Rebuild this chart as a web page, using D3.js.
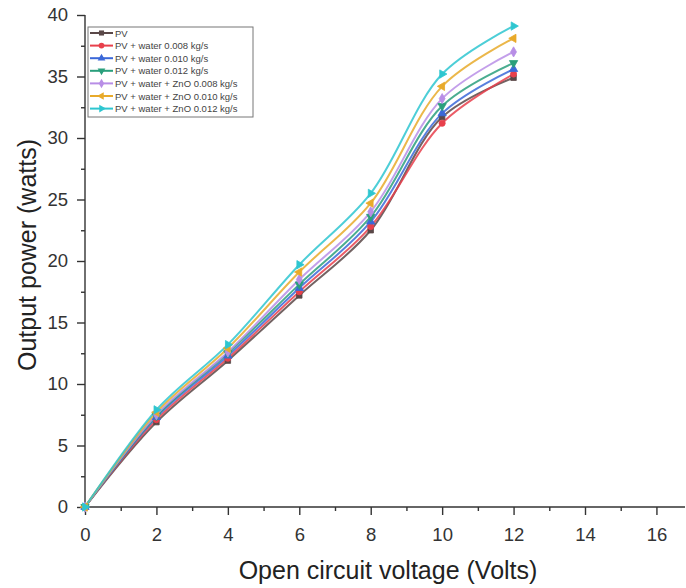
<!DOCTYPE html>
<html><head><meta charset="utf-8">
<script src="https://cdn.jsdelivr.net/npm/d3@7"></script>
<style>body{margin:0;background:#fff}svg{display:block}</style>
</head><body>
<svg id="c" width="686" height="588"></svg>
<script>
const voltage = [0, 2, 4, 6, 8, 10, 12];
const seriesNames = ["PV","PV + water 0.008 kg/s","PV + water 0.010 kg/s","PV + water 0.012 kg/s","PV + water + ZnO 0.008 kg/s","PV + water + ZnO 0.010 kg/s","PV + water + ZnO 0.012 kg/s"];
const pv        = [0, 6.9, 11.9, 17.2, 22.5, 31.7, 34.9];
const w008      = [0, 7.1, 12.1, 17.5, 22.8, 31.2, 35.2];
const w010      = [0, 7.3, 12.3, 17.8, 23.2, 32.0, 35.6];
const w012      = [0, 7.4, 12.5, 18.1, 23.6, 32.6, 36.1];
const zno008    = [0, 7.5, 12.6, 18.5, 24.0, 33.2, 37.0];
const zno010    = [0, 7.7, 12.9, 19.1, 24.7, 34.2, 38.1];
const zno012    = [0, 7.9, 13.2, 19.7, 25.5, 35.2, 39.1];
const seriesValues = [pv, w008, w010, w012, zno008, zno010, zno012];
const colors = ["#5a4848","#e8404c","#3b68d8","#2a9f7c","#b88ee6","#e8aa2a","#2ec6d0"];
const xTicks = [0,2,4,6,8,10,12,14,16];
const yTicks = [0,5,10,15,20,25,30,35,40];

const svg = d3.select("#c");
const L = 85, R = 685, T = 15, B = 507;
const x = d3.scaleLinear().domain([0, 16.8]).range([L, R]);
const y = d3.scaleLinear().domain([0, 40]).range([B, T]);
const axisColor = "#333";
const font = "'Liberation Sans', Arial, sans-serif";

const xMinor = d3.range(1, 17, 2);
const yMinor = d3.range(2.5, 40, 5);
const gx = svg.append("g").attr("transform", `translate(0,${B})`)
  .call(d3.axisBottom(x).tickValues(xTicks).tickSize(8).tickPadding(13).tickFormat(d3.format("d")));
gx.select(".domain").attr("d", `M${L},0H${R}`);
svg.append("g").attr("transform", `translate(0,${B})`)
  .call(d3.axisBottom(x).tickValues(xMinor).tickSize(4).tickFormat(""))
  .select(".domain").remove();
const gy = svg.append("g").attr("transform", `translate(${L},0)`)
  .call(d3.axisLeft(y).tickValues(yTicks).tickSize(8).tickPadding(9));
gy.select(".domain").attr("d", `M0,${T}V${B}`);
svg.append("g").attr("transform", `translate(${L},0)`)
  .call(d3.axisLeft(y).tickValues(yMinor).tickSize(4).tickFormat(""))
  .select(".domain").remove();
svg.selectAll(".domain, .tick line").attr("stroke", axisColor).attr("stroke-width", 1.4);
svg.selectAll(".tick text").attr("fill", "#333").style("font-family", font).style("font-size", "18.5px");

svg.append("text").attr("x", 388).attr("y", 579).attr("text-anchor", "middle")
  .style("font-family", font).style("font-size", "25px").attr("fill", "#222")
  .text("Open circuit voltage (Volts)");
svg.append("text").attr("transform", "translate(36,255) rotate(-90)").attr("text-anchor", "middle")
  .style("font-family", font).style("font-size", "25px").attr("fill", "#222")
  .text("Output power (watts)");

const symbols = [
  {t: d3.symbolSquare, r: 0}, {t: d3.symbolCircle, r: 0}, {t: d3.symbolTriangle, r: 0},
  {t: d3.symbolTriangle, r: 180}, {t: d3.symbolDiamond, r: 0}, {t: d3.symbolTriangle, r: -90},
  {t: d3.symbolTriangle, r: 90}];

const line = d3.line().x(d => x(d[0])).y(d => y(d[1])).curve(d3.curveCatmullRom.alpha(0.5));
seriesValues.forEach((vals, i) => {
  const pts = voltage.map((v, j) => [v, vals[j]]);
  svg.append("path").datum(pts).attr("d", line).attr("fill", "none")
    .attr("stroke", colors[i]).attr("stroke-width", 2).attr("stroke-opacity", 0.85);
});
seriesValues.forEach((vals, i) => {
  const pts = voltage.map((v, j) => [v, vals[j]]);
  svg.append("g").selectAll("path").data(pts).join("path")
    .attr("transform", d => `translate(${x(d[0])},${y(d[1])}) rotate(${symbols[i].r})`)
    .attr("d", d3.symbol().type(symbols[i].t).size(30))
    .attr("fill", colors[i]).attr("stroke", colors[i]).attr("stroke-width", 0.8);
});

const lg = svg.append("g");
lg.append("rect").attr("x", 88).attr("y", 27).attr("width", 165).attr("height", 90)
  .attr("fill", "#fff").attr("stroke", "#777").attr("stroke-width", 1);
seriesNames.forEach((n, i) => {
  const yy = 33 + i * 12.6;
  lg.append("line").attr("x1", 90).attr("x2", 113).attr("y1", yy).attr("y2", yy)
    .attr("stroke", colors[i]).attr("stroke-width", 2);
  lg.append("path").attr("transform", `translate(101.5,${yy}) rotate(${symbols[i].r})`)
    .attr("d", d3.symbol().type(symbols[i].t).size(26)).attr("fill", colors[i]);
  lg.append("text").attr("x", 115).attr("y", yy + 3.5).text(n)
    .style("font-family", font).style("font-size", "9.5px").attr("fill", "#444");
});
</script>
</body></html>
